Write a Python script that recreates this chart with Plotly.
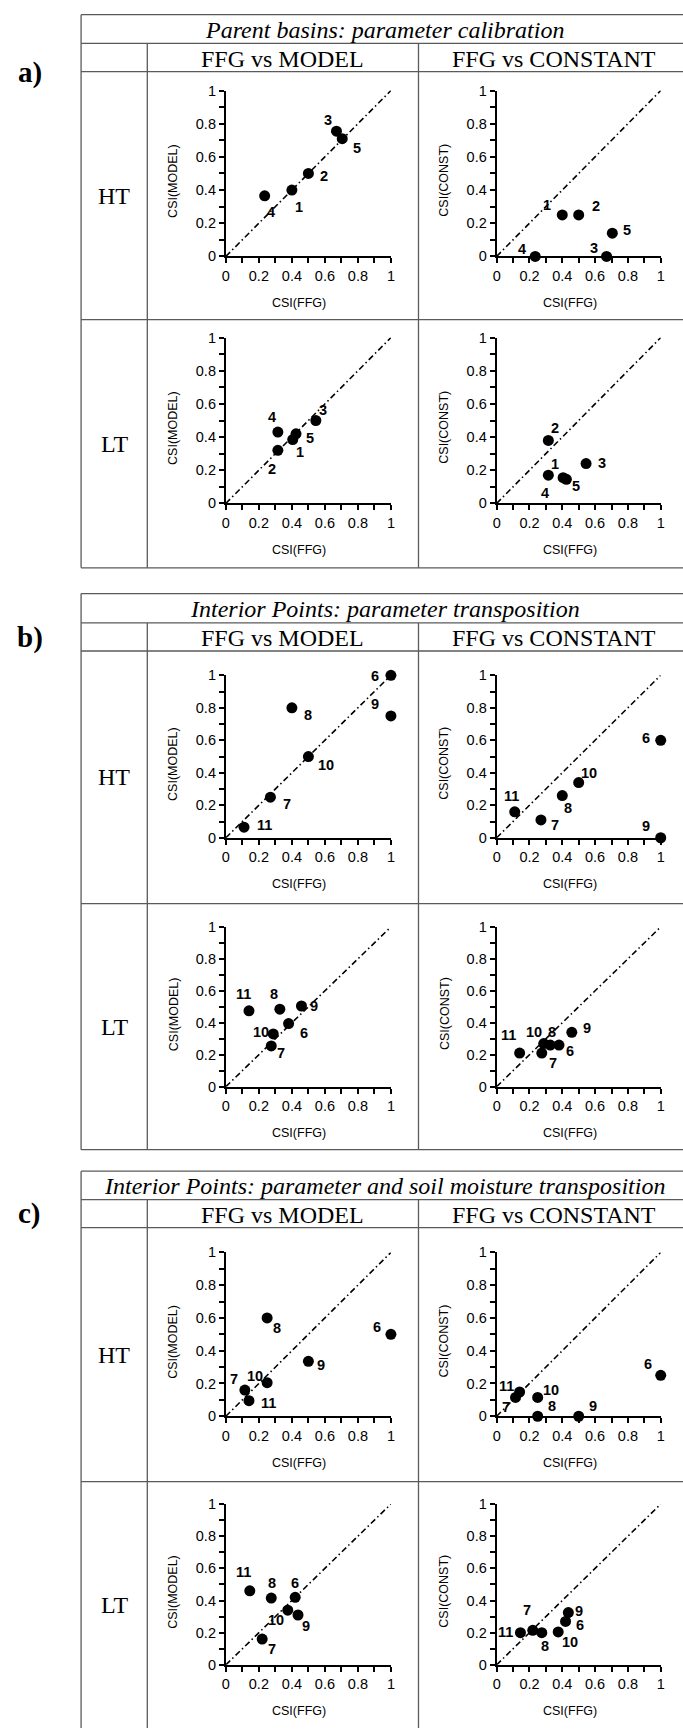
import plotly.graph_objects as go

# ---------------- DATA ----------------
# Panel a) Parent basins: parameter calibration (basins 1-5)
A_IDS = ["1", "2", "3", "4", "5"]
A_HT_FFG = [0.40, 0.50, 0.67, 0.235, 0.705]
A_HT_MODEL = [0.40, 0.50, 0.755, 0.365, 0.71]
A_HT_CONST = [0.25, 0.25, 0.0, 0.0, 0.14]
A_LT_FFG = [0.405, 0.315, 0.545, 0.315, 0.425]
A_LT_MODEL = [0.385, 0.32, 0.50, 0.43, 0.42]
A_LT_CONST = [0.155, 0.38, 0.24, 0.17, 0.145]

# Panel b) Interior points: parameter transposition (points 6-11)
B_IDS = ["6", "7", "8", "9", "10", "11"]
B_HT_FFG = [1.0, 0.27, 0.40, 1.0, 0.50, 0.11]
B_HT_MODEL = [1.0, 0.25, 0.80, 0.75, 0.50, 0.065]
B_HT_CONST = [0.60, 0.11, 0.26, 0.0, 0.34, 0.16]
B_LT_FFG = [0.38, 0.275, 0.327, 0.458, 0.287, 0.14]
B_LT_MODEL = [0.395, 0.255, 0.485, 0.505, 0.33, 0.475]
B_LT_CONST = [0.26, 0.21, 0.26, 0.34, 0.27, 0.21]

# Panel c) Interior points: parameter and soil moisture transposition
C_IDS = ["6", "7", "8", "9", "10", "11"]
C_HT_FFG = [1.0, 0.115, 0.25, 0.50, 0.25, 0.14]
C_HT_MODEL = [0.50, 0.16, 0.60, 0.335, 0.205, 0.095]
C_HT_CONST = [0.25, 0.115, 0.0, 0.0, 0.115, 0.148]
C_LT_FFG = [0.42, 0.22, 0.275, 0.437, 0.375, 0.145]
C_LT_MODEL = [0.42, 0.16, 0.415, 0.31, 0.34, 0.46]
C_LT_CONST = [0.27, 0.215, 0.20, 0.325, 0.205, 0.20]

DIAG_LINE = [0, 1]  # 1:1 reference line
AXIS_RANGE = [0, 1]

PANEL_LETTERS = ["a)", "b)", "c)"]
PANEL_TITLES = ["Parent basins: parameter calibration",
                "Interior Points: parameter transposition",
                "Interior Points: parameter and soil moisture transposition"]
COL_HEADERS = ["FFG vs MODEL", "FFG vs CONSTANT"]
ROW_LABELS = ["HT", "LT"]
X_TITLE = "CSI(FFG)"
Y_TITLES = ["CSI(MODEL)", "CSI(CONST)"]

# ---------------- STYLE / LAYOUT ----------------
W, H = 683, 1731
SERIF = "Liberation Serif, Times New Roman, serif"
SANS = "Liberation Sans, Arial, sans-serif"
LINE_COL = "#5a5a5a"

# label offsets (px) for each point label: (dx, dy) with dy up positive
OFF = {
    ("a", "HT", "M"): [(7, -17), (16, -3), (-8, 11), (6, -16), (15, -9)],
    ("a", "HT", "C"): [(-15, 10), (17, 9), (-13, 8), (-13, 7), (15, 3)],
    ("a", "LT", "M"): [(7, -12), (-6, -19), (7, 11), (-6, 15), (14, -4)],
    ("a", "LT", "C"): [(-8, 14), (7, 12), (16, 1), (-3, -18), (10, -7)],
    ("b", "HT", "M"): [(-16, -1), (17, -7), (16, -7), (-16, 12), (18, -8), (20, 2)],
    ("b", "HT", "C"): [(-15, 2), (14, -5), (6, -12), (-15, 12), (10, 10), (-3, 16)],
    ("b", "LT", "M"): [(15, -9), (10, -7), (-6, 15), (13, 0), (-12, 2), (-5, 17)],
    ("b", "LT", "C"): [(11, -6), (11, -10), (2, 13), (15, 4), (-10, 12), (-11, 18)],
    ("c", "HT", "M"): [(-14, 7), (-11, 11), (10, -10), (13, -4), (-12, 7), (20, -2)],
    ("c", "HT", "C"): [(-13, 11), (-10, -10), (14, 10), (14, 10), (13, 7), (-13, 6)],
    ("c", "LT", "M"): [(0, 14), (10, -10), (1, 15), (8, -11), (-12, -10), (-6, 19)],
    ("c", "LT", "C"): [(14, -4), (-6, 20), (3, -13), (11, 2), (12, -10), (-15, 1)],
}

# plot rectangles in px
MX = (224.5, 391.5)
CX = (498.5, 664.5)
ROWS_Y = {
    ("a", "HT"): (83.3, 250.7), ("a", "LT"): (332.7, 500.0),
    ("b", "HT"): (673.5, 837.5), ("b", "LT"): (927.5, 1088.7),
    ("c", "HT"): (1256.0, 1421.4), ("c", "LT"): (1510.0, 1672.3),
}

# table geometry (px)
TABLES = [
    dict(top=6.7, t1=35.7, t2=64.3, mid=314.5, bot=565.0, letter_y=65),
    dict(top=591.0, t1=620.7, t2=649.0, mid=904.0, bot=1152.3, letter_y=635),
    dict(top=1174.0, t1=1202.7, t2=1231.0, mid=1487.3, bot=None, letter_y=1217),
]
TX0, TX1, TX2, TXR = 78.0, 145.0, 419.4, 693.0


def px(x):
    return x / W


def py(y):
    return 1 - y / H


def ptext(x, y, text, font, angle=0):
    return dict(x=px(x), y=py(y), xref="paper", yref="paper", text=text,
                showarrow=False, xanchor="center", yanchor="middle",
                textangle=angle, font=font)


DATA = {
    "a": (A_IDS, {"HT": (A_HT_FFG, A_HT_MODEL, A_HT_CONST), "LT": (A_LT_FFG, A_LT_MODEL, A_LT_CONST)}),
    "b": (B_IDS, {"HT": (B_HT_FFG, B_HT_MODEL, B_HT_CONST), "LT": (B_LT_FFG, B_LT_MODEL, B_LT_CONST)}),
    "c": (C_IDS, {"HT": (C_HT_FFG, C_HT_MODEL, C_HT_CONST), "LT": (C_LT_FFG, C_LT_MODEL, C_LT_CONST)}),
}

fig = go.Figure()
layout = dict(
    width=W, height=H, margin=dict(l=0, r=0, t=0, b=0),
    paper_bgcolor="white", plot_bgcolor="white", showlegend=False,
    font=dict(family=SANS, color="black"),
)
annotations = []
shapes = []

k = 0
for panel in ["a", "b", "c"]:
    ids, rows = DATA[panel]
    for row in ["HT", "LT"]:
        ffg, model, const = rows[row]
        ytop, ybot = ROWS_Y[(panel, row)]
        for ci, (kind, yvals) in enumerate([("M", model), ("C", const)]):
            k += 1
            xa = "x" if k == 1 else f"x{k}"
            ya = "y" if k == 1 else f"y{k}"
            xr = MX if kind == "M" else CX
            axis_base = dict(
                range=AXIS_RANGE, showgrid=False, zeroline=False, showline=True,
                linecolor="black", linewidth=2, ticks="outside", ticklen=5,
                tickwidth=1.5, tickcolor="black", tick0=0, dtick=0.2,
                minor=dict(dtick=0.1, ticks="outside", ticklen=5, tickwidth=1.5,
                           tickcolor="black", showgrid=False),
                tickfont=dict(family=SANS, size=14.5, color="black"),
                fixedrange=True,
            )
            layout["xaxis" if k == 1 else f"xaxis{k}"] = dict(
                axis_base, domain=[px(xr[0]), px(xr[1])], anchor=ya)
            layout["yaxis" if k == 1 else f"yaxis{k}"] = dict(
                axis_base, domain=[py(ybot), py(ytop)], anchor=xa)
            # 1:1 line
            fig.add_trace(go.Scatter(
                x=DIAG_LINE, y=DIAG_LINE, xaxis=xa, yaxis=ya, mode="lines",
                line=dict(color="black", width=1.6, dash="6px,3px,1.5px,3px"),
                hoverinfo="skip"))
            # points
            fig.add_trace(go.Scatter(
                x=ffg, y=yvals, xaxis=xa, yaxis=ya, mode="markers",
                marker=dict(color="black", size=11), cliponaxis=False))
            offs = OFF[(panel, row, kind)]
            for lab, xv, yv, (dx, dy) in zip(ids, ffg, yvals, offs):
                annotations.append(dict(
                    x=xv, y=yv, xref=xa, yref=ya, text=f"<b>{lab}</b>",
                    showarrow=False, xshift=dx, yshift=dy,
                    xanchor="center", yanchor="middle",
                    font=dict(family=SANS, size=14.5, color="black")))
            # axis titles
            xc = (xr[0] + xr[1]) / 2 - 9
            annotations.append(ptext(xc, ybot + 47, X_TITLE,
                                     dict(family=SANS, size=12.5, color="black")))
            annotations.append(ptext(xr[0] - 53, (ytop + ybot) / 2 + 7, Y_TITLES[ci],
                                     dict(family=SANS, size=12.5, color="black"), -90))

# table lines and text
for ti, T in enumerate(TABLES):
    bot = T["bot"] if T["bot"] is not None else H + 5
    hl = [T["top"], T["t1"], T["t2"], T["mid"]] + ([T["bot"]] if T["bot"] is not None else [])
    for yy in hl:
        shapes.append(dict(type="line", xref="paper", yref="paper",
                           x0=px(TX0), x1=px(TXR), y0=py(yy), y1=py(yy),
                           line=dict(color=LINE_COL, width=1.3)))
    shapes.append(dict(type="line", xref="paper", yref="paper",
                       x0=px(TX0), x1=px(TX0), y0=py(T["top"]), y1=py(bot),
                       line=dict(color=LINE_COL, width=1.3)))
    for xx in [TX1, TX2]:
        shapes.append(dict(type="line", xref="paper", yref="paper",
                           x0=px(xx), x1=px(xx), y0=py(T["t1"]), y1=py(bot),
                           line=dict(color=LINE_COL, width=1.3)))
    serif24 = dict(family=SERIF, size=24, color="black")
    annotations.append(ptext((TX0 + TXR) / 2, (T["top"] + T["t1"]) / 2 + 1,
                             f"<i>{PANEL_TITLES[ti]}</i>", serif24))
    for hi, cx in enumerate([(TX1 + TX2) / 2, (TX2 + TXR) / 2]):
        annotations.append(ptext(cx, (T["t1"] + T["t2"]) / 2 + 1, COL_HEADERS[hi], serif24))
    row_bot = T["bot"] if T["bot"] is not None else 1737
    for ri, (r0, r1) in enumerate([(T["t2"], T["mid"]), (T["mid"], row_bot)]):
        annotations.append(ptext((TX0 + TX1) / 2, (r0 + r1) / 2, ROW_LABELS[ri], serif24))
    annotations.append(ptext(26, T["letter_y"], f"<b>{PANEL_LETTERS[ti]}</b>",
                             dict(family=SERIF, size=29, color="black")))

layout["annotations"] = annotations
layout["shapes"] = shapes
fig.update_layout(**layout)
fig.write_html("out.html")
